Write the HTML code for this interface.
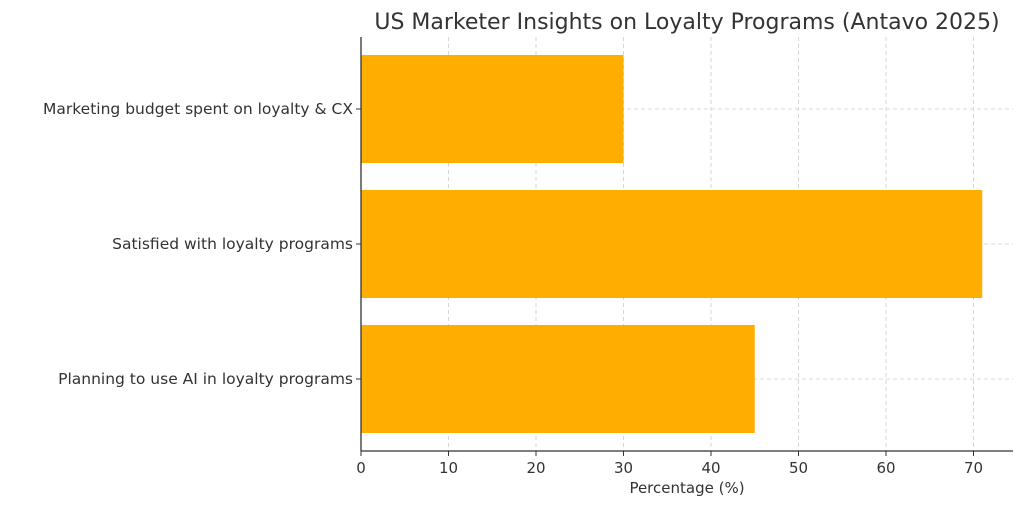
<!DOCTYPE html>
<html><head><meta charset="utf-8"><style>
html,body{margin:0;padding:0;background:#fff;width:1024px;height:507px;overflow:hidden}
svg text{font-family:"DejaVu Sans","Liberation Sans",sans-serif;fill:#333}
</style></head><body>
<svg id="chart" width="1024" height="507" viewBox="0 0 1024 507">
<text x="687" y="29" text-anchor="middle" font-size="22">US Marketer Insights on Loyalty Programs (Antavo 2025)</text>
<g id="grid"></g><g id="bars"></g><g id="axes"></g>
<text x="687" y="493" text-anchor="middle" font-size="15">Percentage (%)</text>
</svg>
<script>
const categories=["Marketing budget spent on loyalty & CX","Satisfied with loyalty programs","Planning to use AI in loyalty programs"];
const values=[30,71,45];
const ticks=[0,10,20,30,40,50,60,70];
const NS="http://www.w3.org/2000/svg";
const L=361,R=1013,T=37,B=451;
const x=v=>L+v*8.75;
const band=135,bh=108,y0=55;
const yTop=i=>y0+i*band;
function mk(tag,a,p){const e=document.createElementNS(NS,tag);for(const k in a)e.setAttribute(k,a[k]);p.appendChild(e);return e;}
const g=document.getElementById('grid'),b=document.getElementById('bars'),ax=document.getElementById('axes');
ticks.forEach(t=>{
 const l=mk('line',{x1:x(t),x2:x(t),y1:T,y2:B,stroke:'#ccc','stroke-dasharray':'4,3','stroke-width':0.8},g);
 
 
 const tk=mk('line',{x1:x(t),x2:x(t),y1:B,y2:B+5,stroke:'#333','stroke-width':1},ax);
 
 
 const tx=mk('text',{x:x(t),y:B+22,'text-anchor':'middle','font-size':15},ax);
 tx.textContent=t;
 
 
});
categories.forEach((c,i)=>{
 const cy=yTop(i)+bh/2;
 const gl=mk('line',{x1:L,x2:R,y1:cy,y2:cy,stroke:'#ccc','stroke-dasharray':'4,3','stroke-width':0.8},g);
 
 
 const r=mk('rect',{x:L,y:yTop(i),width:x(values[i])-L,height:bh,fill:'#FFAE00'},b);
 
 
 const tk=mk('line',{x1:L-5,x2:L,y1:cy,y2:cy,stroke:'#333'},ax);
 
 
 const tx=mk('text',{x:L-8,y:cy+5,'text-anchor':'end','font-size':15.5},ax);
 tx.textContent=c;
 
 
});
const sl=mk('line',{x1:L,x2:L,y1:T,y2:B,stroke:'#333','stroke-width':1.3},ax);


const sb=mk('line',{x1:L,x2:R,y1:B,y2:B,stroke:'#333','stroke-width':1.3},ax);


</script>
</body></html>
